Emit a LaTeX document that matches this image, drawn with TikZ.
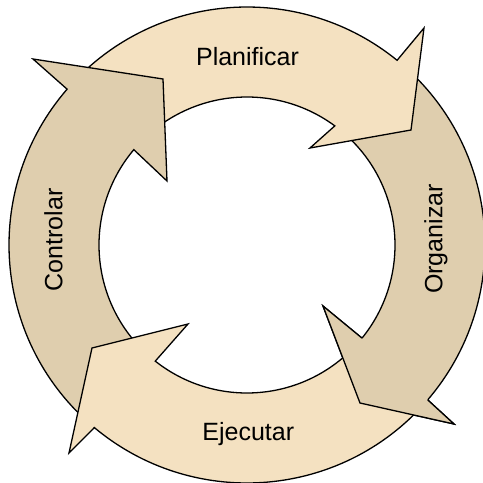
\documentclass[tikz,border=0pt]{standalone}
\usepackage{fontspec}
\setmainfont{Liberation Sans}
\definecolor{lightfill}{HTML}{F4E1C1}
\definecolor{darkfill}{HTML}{DFCEAE}
\begin{document}
\begin{tikzpicture}[x=1pt,y=1pt,
  arrowshape/.style={draw=black, line width=1.3pt, line join=miter},
  lightarrow/.style={arrowshape, fill=lightfill},
  darkarrow/.style={arrowshape, fill=darkfill},
  label/.style={font=\fontsize{25}{30}\selectfont, anchor=base, inner sep=0pt}]
\useasboundingbox (-247,-238) rectangle (236,245);

% ring radii: outer 238, inner 148, centre at the origin
% Planificar (top)
\coordinate (p-on) at (50.9:238);
\coordinate (p-ob) at (177,217);
\coordinate (p-tip) at (164,115);
\coordinate (p-ib) at (63,97);
\coordinate (p-in) at (53.6:148);
% Organizar (right)
\coordinate (o-on) at (-40.6:238);
\coordinate (o-ob) at (207,-179);
\coordinate (o-tip) at (113,-158);
\coordinate (o-ib) at (76,-61);
\coordinate (o-in) at (-39.0:148);
% Ejecutar (bottom)
\coordinate (e-on) at (230.1:238);
\coordinate (e-ob) at (-178,-208);
\coordinate (e-tip) at (-155,-103);
\coordinate (e-ib) at (-59,-79);
\coordinate (e-in) at (231.7:148);
% Controlar (left)
\coordinate (c-on) at (139.1:238);
\coordinate (c-ob) at (-214,186);
\coordinate (c-tip) at (-84,166);
\coordinate (c-ib) at (-80,64);
\coordinate (c-in) at (139.9:148);

% each tail starts under the head of the arrow before it
\path[darkarrow] (48:238) arc[start angle=48, end angle=-40.6, radius=238]
  -- (o-ob) -- (o-tip) -- (o-ib) -- (o-in)
  arc[start angle=-39.0, end angle=48, radius=148] -- cycle;
\path[lightarrow] (135:238) arc[start angle=135, end angle=50.9, radius=238]
  -- (p-ob) -- (p-tip) -- (p-ib) -- (p-in)
  arc[start angle=53.6, end angle=135, radius=148] -- cycle;
\path[darkarrow] (227:238) arc[start angle=227, end angle=139.1, radius=238]
  -- (c-ob) -- (c-tip) -- (c-ib) -- (c-in)
  arc[start angle=139.9, end angle=227, radius=148] -- cycle;
\path[lightarrow] (-43:238) arc[start angle=-43, end angle=-129.9, radius=238]
  -- (e-ob) -- (e-tip) -- (e-ib) -- (e-in)
  arc[start angle=-128.3, end angle=-43, radius=148] -- cycle;
% Organizar head again, on top of the Ejecutar tail
\fill[darkfill] (o-on) -- (o-ob) -- (o-tip) -- (o-ib) -- (o-in) -- cycle;
\draw[arrowshape] (o-on) -- (o-ob) -- (o-tip) -- (o-ib) -- (o-in);

\node[label] (planificar) at (0.5,180) {Planificar};
\node[label] (ejecutar) at (1.3,-195) {Ejecutar};
\node[label, rotate=90] (controlar) at (-184.5,5) {Controlar};
\node[label, rotate=90] (organizar) at (195.5,6) {Organizar};
\end{tikzpicture}
\end{document}
